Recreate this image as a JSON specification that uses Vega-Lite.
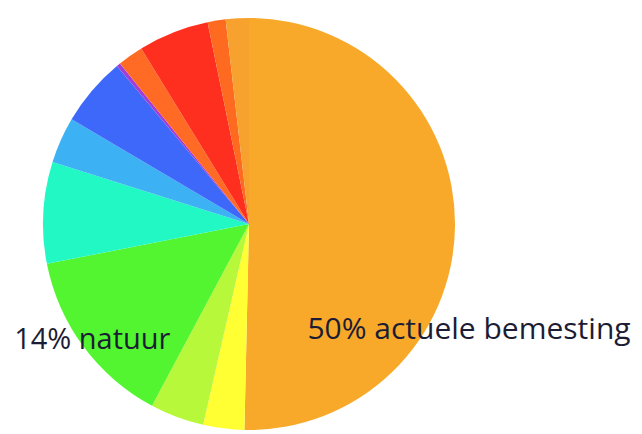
{
  "$schema": "https://vega.github.io/schema/vega-lite/v6.json",
  "width": 498,
  "height": 448,
  "padding": 0,
  "autosize": {"type": "pad"},
  "background": "white",
  "data": {
    "values": [
      {"i": 1, "cat": "actuele bemesting", "pct": 50, "color": "#F8A92A", "lab1": "50% actuele bemesting", "lab2": ""},
      {"i": 2, "cat": "geel", "pct": 3.2, "color": "#FFFF33", "lab1": "", "lab2": ""},
      {"i": 3, "cat": "geelgroen", "pct": 4.2, "color": "#B8F83A", "lab1": "", "lab2": ""},
      {"i": 4, "cat": "natuur", "pct": 14, "color": "#52F52F", "lab1": "", "lab2": "14% natuur"},
      {"i": 5, "cat": "turkoois", "pct": 7.9, "color": "#22F8C4", "lab1": "", "lab2": ""},
      {"i": 6, "cat": "lichtblauw", "pct": 3.6, "color": "#3CB2F4", "lab1": "", "lab2": ""},
      {"i": 7, "cat": "blauw", "pct": 5.4, "color": "#3D68FA", "lab1": "", "lab2": ""},
      {"i": 8, "cat": "paars", "pct": 0.3, "color": "#A23ED8", "lab1": "", "lab2": ""},
      {"i": 9, "cat": "oranjerood", "pct": 2.0, "color": "#FF6B24", "lab1": "", "lab2": ""},
      {"i": 10, "cat": "rood", "pct": 5.5, "color": "#FF2F1F", "lab1": "", "lab2": ""},
      {"i": 11, "cat": "oranjerood 2", "pct": 1.4, "color": "#FD6A20", "lab1": "", "lab2": ""},
      {"i": 12, "cat": "oranje 2", "pct": 1.8, "color": "#F7A22E", "lab1": "", "lab2": ""}
    ]
  },
  "encoding": {
    "theta": {"field": "pct", "type": "quantitative", "stack": true},
    "order": {"field": "i", "type": "quantitative", "sort": "ascending"}
  },
  "layer": [
    {
      "mark": {"type": "arc", "outerRadius": 206},
      "encoding": {
        "color": {"field": "color", "type": "nominal", "scale": null, "legend": null}
      }
    },
    {
      "mark": {"type": "text", "radius": 220, "dy": 113, "align": "center", "baseline": "alphabetic", "font": "Open Sans", "fontSize": 30, "color": "#1C1C34"},
      "encoding": {"text": {"field": "lab1"}}
    },
    {
      "mark": {"type": "text", "radius": 195, "dy": 9, "align": "center", "baseline": "alphabetic", "font": "Open Sans", "fontSize": 29, "color": "#1C1C34"},
      "encoding": {"text": {"field": "lab2"}}
    }
  ],
  "config": {"view": {"stroke": null}}
}
